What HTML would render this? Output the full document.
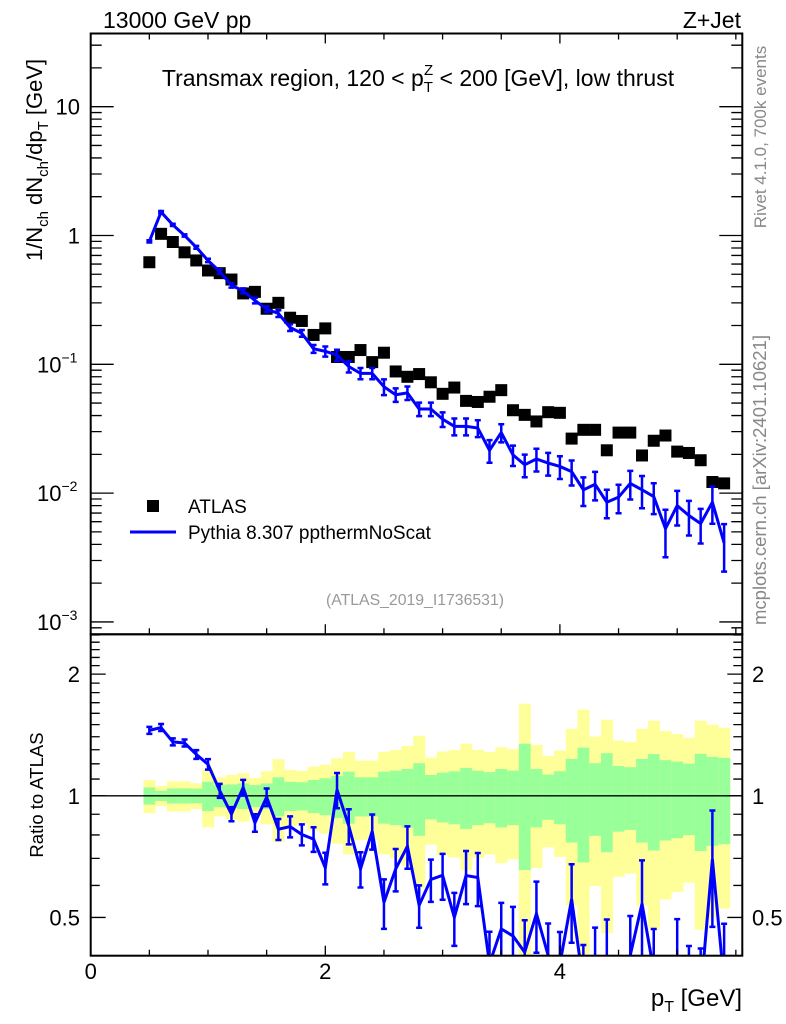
<!DOCTYPE html>
<html><head><meta charset="utf-8">
<style>
html,body{margin:0;padding:0;background:#fff;overflow:hidden;width:786px;height:1024px;}
svg{display:block;font-family:"Liberation Sans",Arial,sans-serif;}
</style></head>
<body>
<svg id="chart" width="786" height="1024" viewBox="0 0 786 1024" xmlns="http://www.w3.org/2000/svg">
<g id="ratio-bands"></g>
<g id="ratio-marks"></g>
<g id="main-marks"></g>
<g id="axes"></g>
<text x="103" y="28" font-size="23">13000 GeV pp</text>
<text x="741" y="28" font-size="23" text-anchor="end">Z+Jet</text>
<text x="418" y="86" font-size="23" text-anchor="middle">Transmax region, 120 &lt; p<tspan font-size="15" dy="6">T</tspan><tspan font-size="15" dx="-9" dy="-17">Z</tspan><tspan dy="11"> &lt; 200 [GeV], low thrust</tspan></text>
<text transform="translate(42,160) rotate(-90)" font-size="22" text-anchor="middle">1/N<tspan font-size="15" dy="6">ch</tspan><tspan dy="-6"> dN</tspan><tspan font-size="15" dy="6">ch</tspan><tspan dy="-6">/dp</tspan><tspan font-size="15" dy="6">T</tspan><tspan dy="-6"> [GeV]</tspan></text>
<text transform="translate(43,795) rotate(-90)" font-size="18.5" text-anchor="middle">Ratio to ATLAS</text>
<text x="742" y="1006" font-size="24" text-anchor="end">p<tspan font-size="16" dy="6">T</tspan><tspan dy="-6"> [GeV]</tspan></text>
<text transform="translate(766,137) rotate(-90)" font-size="17" fill="#888" text-anchor="middle">Rivet 4.1.0,  700k events</text>
<text transform="translate(766,480) rotate(-90)" font-size="18.5" fill="#888" text-anchor="middle">mcplots.cern.ch [arXiv:2401.10621]</text>
<text x="415" y="605" font-size="15.8" fill="#999" text-anchor="middle">(ATLAS_2019_I1736531)</text>
<g>
<rect x="147" y="500" width="12" height="12" fill="#000"/>
<text x="188" y="513" font-size="19">ATLAS</text>
<line x1="130" y1="532" x2="176" y2="532" stroke="#00f" stroke-width="3"/>
<text x="188" y="539" font-size="19">Pythia 8.307 ppthermNoScat</text>
</g>
</svg>
<script>
const xCenters=[0.5,0.6,0.7,0.8,0.9,1.0,1.1,1.2,1.3,1.4,1.5,1.6,1.7,1.8,1.9,2.0,2.1,2.2,2.3,2.4,2.5,2.6,2.7,2.8,2.9,3.0,3.1,3.2,3.3,3.4,3.5,3.6,3.7,3.8,3.9,4.0,4.1,4.2,4.3,4.4,4.5,4.6,4.7,4.8,4.9,5.0,5.1,5.2,5.3,5.4];
const atlasVals=[0.62,1.03,0.89,0.74,0.64,0.535,0.51,0.455,0.355,0.365,0.27,0.30,0.23,0.217,0.169,0.19,0.114,0.114,0.129,0.104,0.123,0.088,0.080,0.084,0.0725,0.059,0.066,0.052,0.051,0.056,0.063,0.044,0.0405,0.036,0.0425,0.042,0.0265,0.031,0.031,0.0215,0.0295,0.0295,0.0196,0.0255,0.028,0.021,0.0205,0.018,0.0122,0.0119];
const mcVals=[0.90,1.52,1.21,1.0,0.81,0.64,0.525,0.41,0.372,0.313,0.268,0.248,0.193,0.174,0.132,0.126,0.118,0.096,0.085,0.085,0.067,0.058,0.060,0.045,0.045,0.0375,0.033,0.033,0.032,0.0215,0.0295,0.0198,0.0166,0.0184,0.0171,0.0161,0.0147,0.0106,0.0117,0.0085,0.0093,0.0119,0.0106,0.0094,0.0053,0.0080,0.0067,0.0058,0.0085,0.0041];
const mcRelErr=[0.02,0.02,0.02,0.02,0.025,0.03,0.04,0.04,0.045,0.05,0.05,0.06,0.06,0.06,0.07,0.09,0.1,0.1,0.1,0.1,0.14,0.12,0.12,0.12,0.12,0.13,0.15,0.15,0.15,0.2,0.16,0.18,0.2,0.2,0.2,0.2,0.22,0.25,0.25,0.25,0.25,0.25,0.28,0.27,0.4,0.3,0.3,0.3,0.32,0.4];
const totErr=[0.094,0.057,0.086,0.086,0.073,0.165,0.111,0.126,0.137,0.107,0.15,0.232,0.159,0.152,0.181,0.194,0.239,0.284,0.222,0.222,0.284,0.299,0.329,0.408,0.243,0.287,0.297,0.345,0.299,0.284,0.319,0.304,0.69,0.337,0.255,0.294,0.465,0.634,0.402,0.543,0.37,0.358,0.465,0.534,0.446,0.422,0.391,0.534,0.5,0.474];
const statErr=[0.049,0.029,0.043,0.043,0.042,0.083,0.063,0.067,0.073,0.063,0.073,0.111,0.083,0.080,0.094,0.105,0.119,0.147,0.111,0.111,0.147,0.154,0.165,0.204,0.126,0.141,0.15,0.172,0.154,0.145,0.165,0.154,0.345,0.165,0.128,0.15,0.234,0.316,0.204,0.275,0.185,0.177,0.234,0.268,0.225,0.215,0.201,0.27,0.248,0.241];
const mainTickLabels=["10","1","10","10","10"];
const mainTickExps=["","","−1","−2","−3"];
const mainTickVals=[10,1,0.1,0.01,0.001];
const ratioTickVals=[2,1,0.5];
const ratioTickLabels=["2","1","0.5"];
const xTickVals=[0,2,4];
const xTickLabels=["0","2","4"];

const NS="http://www.w3.org/2000/svg";
const X0=90.7,X1=742.3,XMIN=0,XMAX=5.555;
const MT=33.5,MB=634.3,RB=955.7;
const LMAX=1.568,LMIN=-3.096;
const RMAX=Math.log10(2.51),RMIN=Math.log10(0.402);
const sx=v=>X0+(v-XMIN)/(XMAX-XMIN)*(X1-X0);
const sy=v=>MT+(LMAX-Math.log10(v))/(LMAX-LMIN)*(MB-MT);
const ry=v=>MB+(RMAX-Math.log10(Math.max(v,1e-3)))/(RMAX-RMIN)*(RB-MB);
function mk(tag,attrs,parent){const e=document.createElementNS(NS,tag);for(const k in attrs)e.setAttribute(k,attrs[k]);parent.appendChild(e);return e;}
const bands=document.getElementById('ratio-bands');
const rmarks=document.getElementById('ratio-marks');
const mmarks=document.getElementById('main-marks');
const axes=document.getElementById('axes');
const clip=mk('clipPath',{id:'rclip'},document.getElementById('chart'));
mk('rect',{x:X0,y:MB,width:X1-X0,height:RB-MB},clip);
bands.setAttribute('clip-path','url(#rclip)');
rmarks.setAttribute('clip-path','url(#rclip)');

xCenters.forEach((x,i)=>{
  const xa=sx(x-0.05),xb=sx(x+0.05);
  const y1=ry(1+totErr[i]),y2=ry(Math.max(1-totErr[i],0.01));
  const r=mk('rect',{x:xa,y:y1,width:xb-xa+0.3,height:y2-y1,fill:'#ffff99'},bands);
  
  
  const g1=ry(1+statErr[i]),g2=ry(1-statErr[i]);
  const g=mk('rect',{x:xa,y:g1,width:xb-xa+0.3,height:g2-g1,fill:'#99ff99'},bands);
  
  
});
const one=mk('line',{x1:X0,x2:X1,y1:ry(1),y2:ry(1),stroke:'#000','stroke-width':1.3},bands);



const ratios=mcVals.map((m,i)=>m/atlasVals[i]);
const rpl=mk('polyline',{points:ratios.map((r,i)=>sx(xCenters[i])+','+ry(r)).join(' '),fill:'none',stroke:'#00f','stroke-width':3,'stroke-linejoin':'miter'},rmarks);


ratios.forEach((r,i)=>{
  const x=sx(xCenters[i]),yt=ry(r*(1+mcRelErr[i])),yb=ry(r*(1-mcRelErr[i]));
  const p=mk('path',{d:`M${x},${yt}V${yb}M${x-3},${yt}H${x+3}M${x-3},${yb}H${x+3}`,stroke:'#00f','stroke-width':2.5,fill:'none'},rmarks);
  
  
});

atlasVals.forEach((v,i)=>{
  const s=mk('rect',{x:sx(xCenters[i])-6,y:sy(v)-6,width:12,height:12,fill:'#000'},mmarks);
  
  
});
const mpl=mk('polyline',{points:mcVals.map((m,i)=>sx(xCenters[i])+','+sy(m)).join(' '),fill:'none',stroke:'#00f','stroke-width':3},mmarks);


mcVals.forEach((m,i)=>{
  const x=sx(xCenters[i]),yt=sy(m*(1+mcRelErr[i])),yb=sy(m*Math.max(1-mcRelErr[i],0.05));
  const p=mk('path',{d:`M${x},${yt}V${yb}M${x-3},${yt}H${x+3}M${x-3},${yb}H${x+3}`,stroke:'#00f','stroke-width':2.5,fill:'none'},mmarks);
  
  
});

const f1=mk('rect',{x:X0,y:MT,width:X1-X0,height:MB-MT,fill:'none',stroke:'#000','stroke-width':2},axes);


const f2=mk('rect',{x:X0,y:MB,width:X1-X0,height:RB-MB,fill:'none',stroke:'#000','stroke-width':2},axes);



let d='';
for(let e=-4;e<=2;e++){for(let k=1;k<10;k++){const v=k*Math.pow(10,e);const l=Math.log10(v);if(l>LMAX||l<LMIN)continue;const y=sy(v);const len=k==1?23:11;d+=`M${X0},${y}h${len}M${X1},${y}h${-len}`;}}
[0.5,0.6,0.7,0.8,0.9,1,1.1,1.2,1.3,1.4,1.5,1.6,1.7,1.8,1.9,2,2.1,2.2,2.3,2.4,2.5].forEach(v=>{const y=ry(v);const len=(v==0.5||v==1||v==2)?15:9;d+=`M${X0},${y}h${len}M${X1},${y}h${-len}`;});
for(let v=0;v<=5.5;v+=0.5){const x=sx(v);const len=(Math.abs(v%2)<1e-6)?10:6;d+=`M${x},${RB}v${-len}M${x},${MB}v${-len}M${x},${MT}v${len}`;}
const tk=mk('path',{d:d,stroke:'#000','stroke-width':1.3,fill:'none'},axes);



mainTickVals.forEach((v,i)=>{
  const y=sy(v)+8;
  const t=mk('text',{x:80,y:y,'font-size':22,'text-anchor':'end'},axes);
  
  
  t.textContent=mainTickLabels[i];
  if(mainTickExps[i]){const ts=mk('tspan',{'font-size':14,dy:-10},t);ts.textContent=mainTickExps[i];t.setAttribute('text-anchor','start');t.setAttribute('x',37);}
});
ratioTickVals.forEach((v,i)=>{
  const y=ry(v)+8;
  const t=mk('text',{x:80,y:y,'font-size':22,'text-anchor':'end'},axes);
  
  
  t.textContent=ratioTickLabels[i];
  const t2=mk('text',{x:752,y:y,'font-size':22},axes);
  
  
  t2.textContent=ratioTickLabels[i];
});
xTickVals.forEach((v,i)=>{
  const t=mk('text',{x:sx(v),y:979,'font-size':22,'text-anchor':'middle'},axes);
  
  
  t.textContent=xTickLabels[i];
});
</script>
</body></html>
